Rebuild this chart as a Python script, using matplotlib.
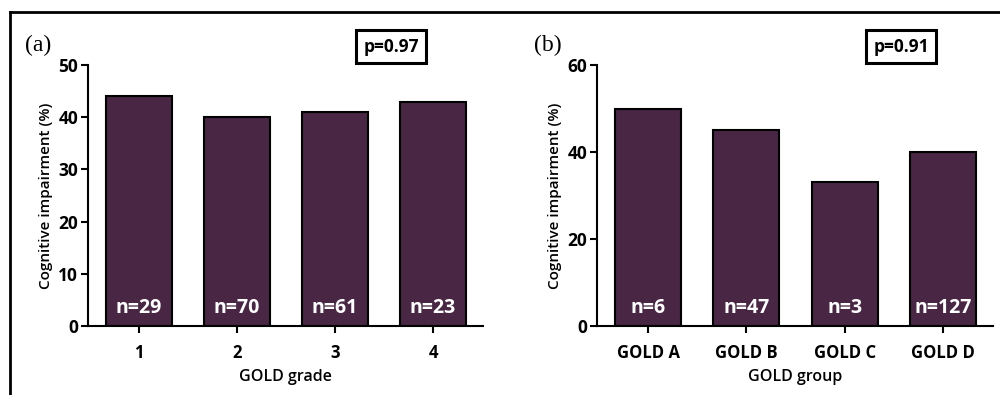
import matplotlib
matplotlib.use("Agg")
import matplotlib.pyplot as plt
from matplotlib.lines import Line2D

# ---- data ----
grade_labels = ["1", "2", "3", "4"]
grade_values = [44, 40, 41, 43]
grade_n = ["n=29", "n=70", "n=61", "n=23"]

group_labels = ["GOLD A", "GOLD B", "GOLD C", "GOLD D"]
group_values = [50, 45, 33, 40]
group_n = ["n=6", "n=47", "n=3", "n=127"]

BAR_COLOR = "#482644"
FONT = "Open Sans"

plt.rcParams["font.family"] = [FONT, "DejaVu Sans"]


def draw_panel(ax, labels, values, nlabels, ymax, ystep, xlabel, pval, tag, fig):
    x = list(range(len(labels)))
    ax.bar(x, values, width=0.67, color=BAR_COLOR, edgecolor="black", linewidth=1.5, zorder=2)
    ax.set_xlim(-0.52, 3.51)
    ax.set_ylim(0, ymax)
    ax.set_yticks(range(0, ymax + 1, ystep))
    ax.set_xticks(x)
    ax.set_xticklabels(labels)
    for s in ["top", "right"]:
        ax.spines[s].set_visible(False)
    for s in ["left", "bottom"]:
        ax.spines[s].set_linewidth(1.5)
    ax.tick_params(axis="y", length=5, width=1.5, pad=2, labelsize=12.5)
    ax.tick_params(axis="x", length=5, width=1.5, pad=8, labelsize=12)
    for lab in ax.get_xticklabels() + ax.get_yticklabels():
        lab.set_fontweight("bold")
    ax.set_xlabel(xlabel, fontsize=11.5, fontweight="semibold", labelpad=5)
    ax.set_ylabel("Cognitive impairment (%)", fontsize=11, fontweight="semibold", labelpad=4)

    tr = ax.get_xaxis_transform()
    for xi, nl in zip(x, nlabels):
        ax.text(xi, 0.07, nl, transform=tr, ha="center", va="center",
                color="white", fontsize=14, fontweight="bold", zorder=3)

    pos = ax.get_position()
    fig.text(pos.x0 + pos.width * 0.768, 0.882, pval, ha="center", va="center",
             fontsize=12.5, fontweight="bold",
             bbox=dict(boxstyle="square,pad=0.42", facecolor="white",
                       edgecolor="black", linewidth=2.2))
    fig.text(pos.x0 - 0.063, 0.885, tag, ha="left", va="center",
             fontsize=17, family="Liberation Serif")


fig = plt.figure(figsize=(10, 3.95), dpi=100)
ax1 = fig.add_axes([0.088, 0.175, 0.395, 0.66])
ax2 = fig.add_axes([0.597, 0.175, 0.396, 0.66])

draw_panel(ax1, grade_labels, grade_values, grade_n, 50, 10, "GOLD grade", "p=0.97", "(a)", fig)
draw_panel(ax2, group_labels, group_values, group_n, 60, 20, "GOLD group", "p=0.91", "(b)", fig)

# outer frame lines (top and left)
fig.add_artist(Line2D([0.010, 1.0], [0.970, 0.970], transform=fig.transFigure,
                      color="black", linewidth=2))
fig.add_artist(Line2D([0.010, 0.010], [0.0, 0.970], transform=fig.transFigure,
                      color="black", linewidth=2))

fig.savefig("out.png", dpi=100)
